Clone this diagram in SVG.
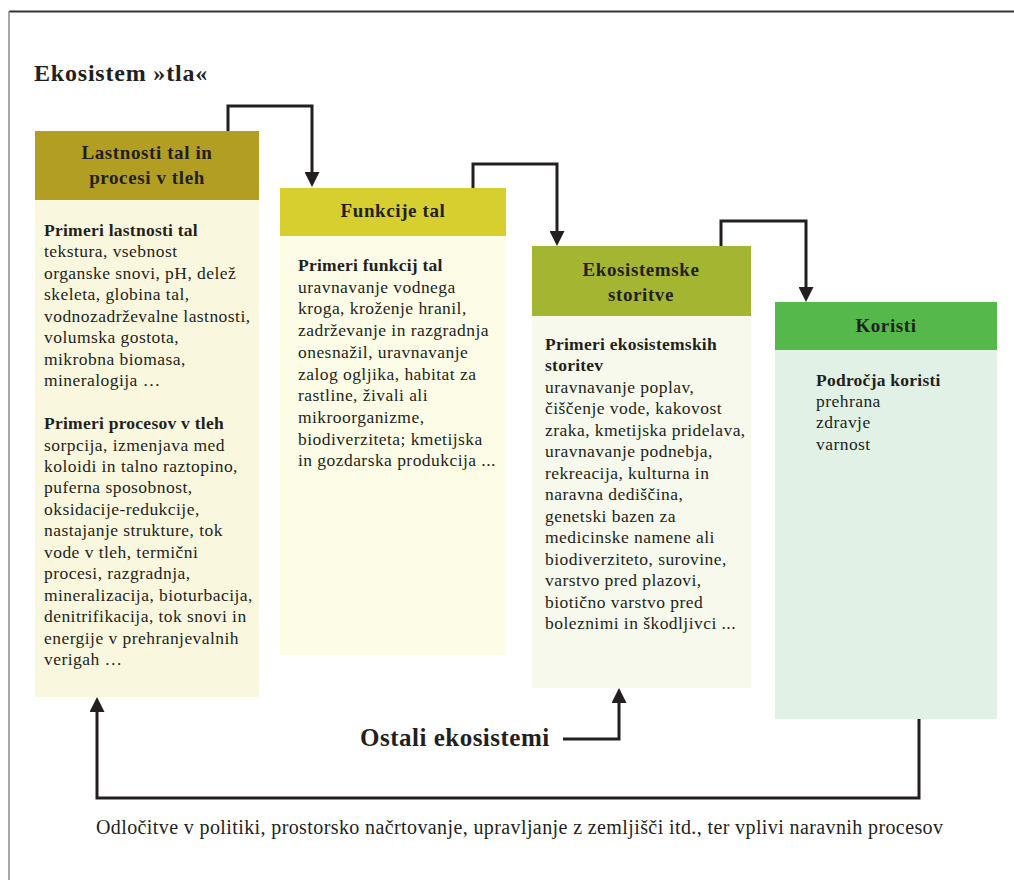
<svg xmlns="http://www.w3.org/2000/svg" width="1014" height="880" viewBox="0 0 1014 880">
<defs>
<style>
text{font-family:"Liberation Serif","Times New Roman",serif;fill:#231f20}
.title{font-size:24px;font-weight:bold;letter-spacing:0.8px}
.hd{font-size:19px;font-weight:bold;text-anchor:middle;letter-spacing:0.6px}
.b{font-size:17.5px;letter-spacing:0.45px}
.bb{font-weight:bold;letter-spacing:0.25px}
.ln{fill:none;stroke:#231f20;stroke-width:3}
.bottom{font-size:20px}
.ostali{font-size:25px;font-weight:bold;letter-spacing:0.5px}
</style>
<marker id="ah" markerUnits="userSpaceOnUse" markerWidth="15" markerHeight="15" refX="7" refY="7.5" orient="auto">
<path d="M0,0 L15,7.5 L0,15 z" fill="#231f20"/>
</marker>
</defs>
<rect width="1014" height="880" fill="#ffffff"/>
<line x1="9" y1="11.5" x2="1014" y2="11.5" stroke="#333" stroke-width="2"/>
<line x1="9" y1="11" x2="9" y2="880" stroke="#888" stroke-width="1.5"/>
<text class="title" x="34" y="81">Ekosistem »tla«</text>

<g id="box1">
<rect x="35" y="131" width="224" height="69" fill="#b29e23"/>
<rect x="35" y="200" width="224" height="497" fill="#faf7df"/>
<text class="hd" x="147" y="159">Lastnosti tal in</text>
<text class="hd" x="147" y="184">procesi v tleh</text>
<text class="b" x="44" y="236">
<tspan x="44" class="bb">Primeri lastnosti tal</tspan>
<tspan x="44" dy="21.45">tekstura, vsebnost</tspan>
<tspan x="44" dy="21.45">organske snovi, pH, delež</tspan>
<tspan x="44" dy="21.45">skeleta, globina tal,</tspan>
<tspan x="44" dy="21.45">vodnozadrževalne lastnosti,</tspan>
<tspan x="44" dy="21.45">volumska gostota,</tspan>
<tspan x="44" dy="21.45">mikrobna biomasa,</tspan>
<tspan x="44" dy="21.45">mineralogija …</tspan>
<tspan x="44" dy="42.9" class="bb">Primeri procesov v tleh</tspan>
<tspan x="44" dy="21.45">sorpcija, izmenjava med</tspan>
<tspan x="44" dy="21.45">koloidi in talno raztopino,</tspan>
<tspan x="44" dy="21.45">puferna sposobnost,</tspan>
<tspan x="44" dy="21.45">oksidacije-redukcije,</tspan>
<tspan x="44" dy="21.45">nastajanje strukture, tok</tspan>
<tspan x="44" dy="21.45">vode v tleh, termični</tspan>
<tspan x="44" dy="21.45">procesi, razgradnja,</tspan>
<tspan x="44" dy="21.45">mineralizacija, bioturbacija,</tspan>
<tspan x="44" dy="21.45">denitrifikacija, tok snovi in</tspan>
<tspan x="44" dy="21.45">energije v prehranjevalnih</tspan>
<tspan x="44" dy="21.45">verigah …</tspan>
</text>
</g>

<g id="box2">
<rect x="280" y="188" width="226" height="48" fill="#d7cf2f"/>
<rect x="280" y="236" width="226" height="419" fill="#fdfde7"/>
<text class="hd" x="393" y="217">Funkcije tal</text>
<text class="b" x="298" y="271">
<tspan x="298" class="bb">Primeri funkcij tal</tspan>
<tspan x="298" dy="21.7">uravnavanje vodnega</tspan>
<tspan x="298" dy="21.7">kroga, kroženje hranil,</tspan>
<tspan x="298" dy="21.7">zadrževanje in razgradnja</tspan>
<tspan x="298" dy="21.7">onesnažil, uravnavanje</tspan>
<tspan x="298" dy="21.7">zalog ogljika, habitat za</tspan>
<tspan x="298" dy="21.7">rastline, živali ali</tspan>
<tspan x="298" dy="21.7">mikroorganizme,</tspan>
<tspan x="298" dy="21.7">biodiverziteta; kmetijska</tspan>
<tspan x="298" dy="21.7">in gozdarska produkcija ...</tspan>
</text>
</g>

<g id="box3">
<rect x="532" y="246" width="219" height="70" fill="#a4b532"/>
<rect x="532" y="316" width="219" height="372" fill="#f6f9eb"/>
<text class="hd" x="641" y="276">Ekosistemske</text>
<text class="hd" x="641" y="301">storitve</text>
<text class="b" x="545" y="350">
<tspan x="545" class="bb">Primeri ekosistemskih</tspan>
<tspan x="545" dy="21.46" class="bb">storitev</tspan>
<tspan x="545" dy="21.46">uravnavanje poplav,</tspan>
<tspan x="545" dy="21.46">čiščenje vode, kakovost</tspan>
<tspan x="545" dy="21.46">zraka, kmetijska pridelava,</tspan>
<tspan x="545" dy="21.46">uravnavanje podnebja,</tspan>
<tspan x="545" dy="21.46">rekreacija, kulturna in</tspan>
<tspan x="545" dy="21.46">naravna dediščina,</tspan>
<tspan x="545" dy="21.46">genetski bazen za</tspan>
<tspan x="545" dy="21.46">medicinske namene ali</tspan>
<tspan x="545" dy="21.46">biodiverziteto, surovine,</tspan>
<tspan x="545" dy="21.46">varstvo pred plazovi,</tspan>
<tspan x="545" dy="21.46">biotično varstvo pred</tspan>
<tspan x="545" dy="21.46">boleznimi in škodljivci ...</tspan>
</text>
</g>

<g id="box4">
<rect x="775" y="302" width="222" height="48" fill="#55b84b"/>
<rect x="775" y="350" width="222" height="369" fill="#e1f1e6"/>
<text class="hd" x="886" y="332">Koristi</text>
<text class="b" x="816" y="386">
<tspan x="816" class="bb">Področja koristi</tspan>
<tspan x="816" dy="21.2">prehrana</tspan>
<tspan x="816" dy="21.2">zdravje</tspan>
<tspan x="816" dy="21.2">varnost</tspan>
</text>
</g>

<g id="ostali">
<text class="ostali" x="360" y="746">Ostali ekosistemi</text>
</g>

<g id="connectors">
<path class="ln" d="M228,131 V106 H312 V179" marker-end="url(#ah)"/>
<path class="ln" d="M473,188 V164 H557 V238" marker-end="url(#ah)"/>
<path class="ln" d="M721,246 V221 H806 V294" marker-end="url(#ah)"/>
<path class="ln" d="M919,719 V798 H97 V705" marker-end="url(#ah)"/>
<path class="ln" d="M563,739 H619 V696" marker-end="url(#ah)"/>
</g>

<text class="bottom" x="96" y="834" textLength="847" lengthAdjust="spacing">Odločitve v politiki, prostorsko načrtovanje, upravljanje z zemljišči itd., ter vplivi naravnih procesov</text>
</svg>
